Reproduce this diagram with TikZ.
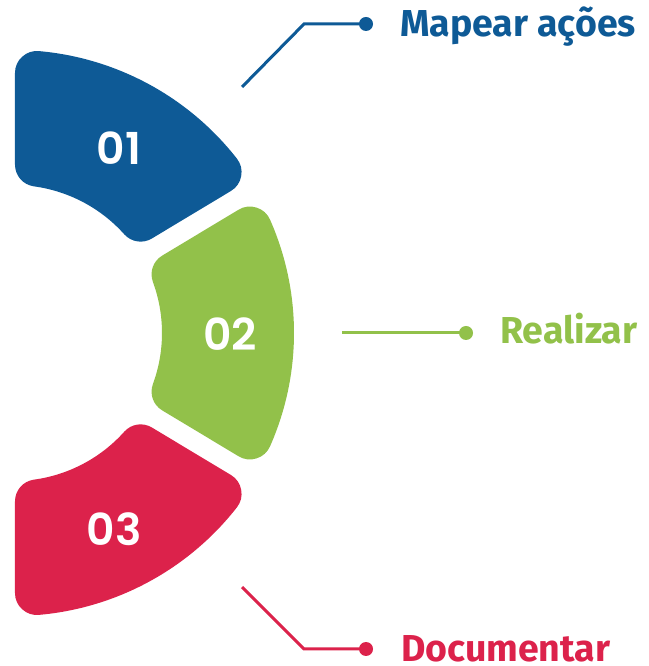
\documentclass[tikz,border=0pt]{standalone}
\usepackage{fontspec}
\setmainfont{Fira Sans}
\newfontfamily\digfont{Poppins SemiBold}
\usetikzlibrary{calc}
\definecolor{cblue}{RGB}{14,90,150}
\definecolor{cgreen}{RGB}{146,193,74}
\definecolor{cred}{RGB}{220,34,75}
\begin{document}
\begin{tikzpicture}[x=1pt,y=1pt,
 piece/.style={line width=44pt, line join=round},
 numtext/.style={text=white, font=\digfont\fontsize{44}{44}\selectfont, inner sep=0},
 lbl/.style={font=\bfseries\fontsize{37.5}{37.5}\selectfont, inner sep=0, anchor=base west},
 conn/.style={line width=3pt},
 enddot/.style={circle, fill, inner sep=0, minimum size=14pt}]
\useasboundingbox (0,0) rectangle (648,666);
\coordinate (c) at (14,333);
% piece 01
\filldraw[piece, cblue] ($(c)+({31+asin(32/261)}:261)$) arc[start angle={31+asin(32/261)}, end angle={90-asin(23/261)}, radius=261]
  -- ($(c)+({90-asin(23/170)}:170)$) arc[start angle={90-asin(23/170)}, end angle={31+asin(32/170)}, radius=170] -- cycle;
% piece 02
\filldraw[piece, cgreen] ($(c)+({-31+asin(32/258)}:258)$) arc[start angle={-31+asin(32/258)}, end angle={31-asin(32/258)}, radius=258]
  -- ($(c)+({31-asin(32/170)}:170)$) arc[start angle={31-asin(32/170)}, end angle={-31+asin(32/170)}, radius=170] -- cycle;
% piece 03
\filldraw[piece, cred] ($(c)+({-90+asin(23/261)}:261)$) arc[start angle={-90+asin(23/261)}, end angle={-31-asin(32/261)}, radius=261]
  -- ($(c)+({-31-asin(32/170)}:170)$) arc[start angle={-31-asin(32/170)}, end angle={-90+asin(23/170)}, radius=170] -- cycle;
% numbers
\node[numtext] (n1) at (119,518) {01};
\node[numtext] (n2) at (230,332) {02};
\node[numtext] (n3) at (114,137) {03};
% connector 1
\coordinate (a1) at (242,579);
\coordinate (b1) at (304,642);
\node[enddot, fill=cblue] (d1) at (366,642) {};
\draw[conn, cblue] (a1) -- (b1) -- (d1.center);
\node[lbl, text=cblue] (t1) at (400,629) {Mapear ações};
% connector 2
\coordinate (a2) at (342,333);
\node[enddot, fill=cgreen] (d2) at (466,333) {};
\draw[conn, cgreen] (a2) -- (d2.center);
\node[lbl, text=cgreen] (t2) at (500,322) {Realizar};
% connector 3
\coordinate (a3) at (242,79);
\coordinate (b3) at (304,17);
\node[enddot, fill=cred] (d3) at (366,17) {};
\draw[conn, cred] (a3) -- (b3) -- (d3.center);
\node[lbl, text=cred] (t3) at (401,5) {Documentar};
\end{tikzpicture}
\end{document}
